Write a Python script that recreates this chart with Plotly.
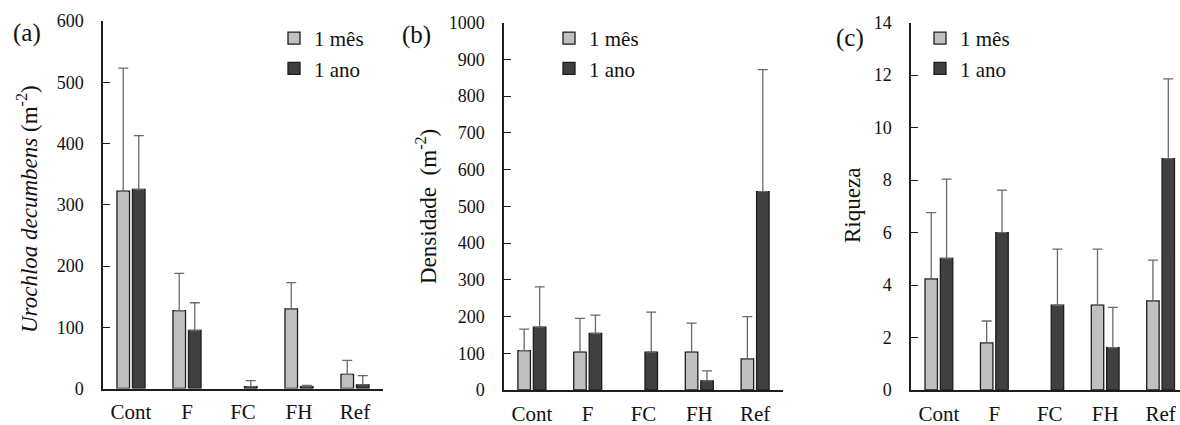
import plotly.graph_objects as go

W, H = 1180, 425

categories = ["Cont", "F", "FC", "FH", "Ref"]
series_names = ["1 mês", "1 ano"]

# (a) Urochloa decumbens (m-2)  -- None = no bar drawn
a_mes = [322, 127, None, 130, 23]
a_mes_err = [201, 61, None, 43, 23]
a_ano = [325, 95, 3, 3, 6]
a_ano_err = [88, 45, 10, 2, 15]

# (b) Densidade (m-2)
b_mes = [107, 103, None, 103, 85]
b_mes_err = [59, 92, None, 79, 115]
b_ano = [171, 154, 103, 25, 540]
b_ano_err = [110, 50, 109, 27, 332]

# (c) Riqueza
c_mes = [4.23, 1.8, None, 3.23, 3.4]
c_mes_err = [2.53, 0.83, None, 2.14, 1.55]
c_ano = [5.02, 6.0, 3.23, 1.61, 8.82]
c_ano_err = [3.02, 1.62, 2.14, 1.54, 3.04]

y_titles = ["<i>Urochloa decumbens</i> (m<sup>-2</sup>)", "Densidade  (m<sup>-2</sup>)", "Riqueza"]
panel_labels = ["(a)", "(b)", "(c)"]
y_ranges = [(0, 600, 100), (0, 1000, 100), (0, 14, 2)]
# panel (c) is cropped at the right edge in the original
x_ranges = [(-0.5, 4.5), (-0.5, 4.5), (-0.5, 4.35)]

FONT = "Liberation Serif"
LIGHT = "#c0c0c0"
DARK = "#404040"
EDGE = "#1e1e1e"
ERR = "#6a6a6a"
TXT = "#111111"

def px_x(v):
    return v / W

def px_y(v):
    return 1 - v / H

# plot-area boxes in pixels (left, right, top, bottom)
boxes = [(103, 383, 21, 388.5), (504, 783, 22.7, 390), (911.2, 1180, 22.7, 390)]

fig = go.Figure()
data = [
    (a_mes, a_mes_err, a_ano, a_ano_err),
    (b_mes, b_mes_err, b_ano, b_ano_err),
    (c_mes, c_mes_err, c_ano, c_ano_err),
]
legend_ids = ["legend", "legend2", "legend3"]
for i, (m, me, a, ae) in enumerate(data):
    sfx = "" if i == 0 else str(i + 1)
    for name, vals, errs, col in ((series_names[0], m, me, LIGHT), (series_names[1], a, ae, DARK)):
        fig.add_trace(go.Bar(
            x=categories, y=vals, name=name,
            marker=dict(color=col, line=dict(color=EDGE, width=1.3)),
            error_y=dict(type="data", array=errs, arrayminus=[0] * len(errs), symmetric=False,
                         color=ERR, thickness=1.3, width=5),
            xaxis="x" + sfx, yaxis="y" + sfx, legend=legend_ids[i],
        ))

layout = dict(
    template="none",
    width=W, height=H, margin=dict(l=0, r=0, t=0, b=0, pad=0, autoexpand=False),
    paper_bgcolor="white", plot_bgcolor="white",
    barmode="group", bargap=0.446, bargroupgap=0.19,
    font=dict(family=FONT, color=TXT),
    showlegend=True,
)

annotations = []
legend_sym_x = [294, 569, 940]
for i, (l, r, t, b) in enumerate(boxes):
    sfx = "" if i == 0 else str(i + 1)
    lo, hi, dt = y_ranges[i]
    layout["xaxis" + sfx] = dict(
        domain=[px_x(l), min(px_x(r), 1.0)], anchor="y" + sfx, automargin=False,
        range=list(x_ranges[i]), showline=True, linecolor=EDGE, linewidth=1.5,
        ticks="", showgrid=False, zeroline=False,
        tickfont=dict(family=FONT, size=21, color=TXT), ticklabelstandoff=4,
    )
    layout["yaxis" + sfx] = dict(
        domain=[px_y(b), px_y(t)], anchor="x" + sfx, automargin=False,
        range=[lo, hi], dtick=dt, tick0=0, showline=True, linecolor=EDGE, linewidth=1.5,
        ticks="inside", ticklen=7, tickwidth=1.3, tickcolor=EDGE,
        showgrid=False, zeroline=False,
        tickfont=dict(family=FONT, size=18, color=TXT), ticklabelstandoff=14,
    )
    layout[legend_ids[i]] = dict(
        x=px_x(legend_sym_x[i] - 20), y=px_y(18), xanchor="left", yanchor="top",
        bgcolor="rgba(0,0,0,0)", font=dict(family=FONT, size=21, color=TXT),
        tracegroupgap=0, itemwidth=30,
    )

title_pos = [(28, 209), (426, 207), (853, 206)]
label_pos = [(27, 33), (416, 35), (850, 38)]
for i in range(3):
    annotations.append(dict(
        text=y_titles[i], x=px_x(title_pos[i][0]), y=px_y(title_pos[i][1]),
        xref="paper", yref="paper", showarrow=False, textangle=-90,
        xanchor="center", yanchor="middle",
        font=dict(family=FONT, size=23, color=TXT),
    ))
    annotations.append(dict(
        text=panel_labels[i], x=px_x(label_pos[i][0]), y=px_y(label_pos[i][1]),
        xref="paper", yref="paper", showarrow=False,
        xanchor="center", yanchor="middle",
        font=dict(family=FONT, size=25, color=TXT),
    ))
layout["annotations"] = annotations
fig.update_layout(**layout)

fig.write_html("out.html", config={"displayModeBar": False})
